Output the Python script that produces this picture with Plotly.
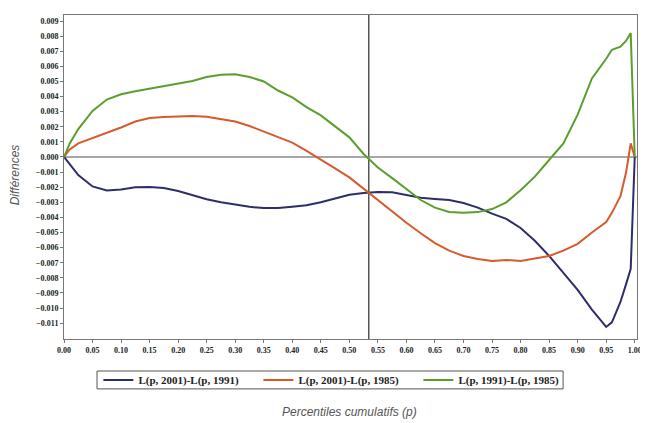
import plotly.graph_objects as go

# cumulative percentiles p
p = [0, 0.01, 0.025, 0.05, 0.075, 0.10, 0.125, 0.15, 0.175, 0.20, 0.225, 0.25,
     0.275, 0.30, 0.325, 0.35, 0.375, 0.40, 0.425, 0.45, 0.475, 0.50, 0.525,
     0.55, 0.575, 0.60, 0.625, 0.65, 0.675, 0.70, 0.725, 0.75, 0.775, 0.80,
     0.825, 0.85, 0.875, 0.90, 0.925, 0.95, 0.96, 0.975, 0.985, 0.993, 1.0]

# differences, in thousandths
d_2001_1991 = [0, -0.45, -1.2, -1.95, -2.22, -2.15, -2.0, -1.99, -2.05, -2.25,
               -2.52, -2.8, -3.0, -3.15, -3.3, -3.38, -3.38, -3.3, -3.2, -3.0,
               -2.75, -2.5, -2.38, -2.32, -2.33, -2.5, -2.7, -2.78, -2.85, -3.05,
               -3.35, -3.75, -4.1, -4.7, -5.55, -6.55, -7.65, -8.8, -10.1,
               -11.25, -10.95, -9.6, -8.4, -7.4, 0]
d_2001_1985 = [0, 0.5, 0.9, 1.25, 1.55, 1.95, 2.35, 2.58, 2.65, 2.67, 2.72, 2.67,
               2.5, 2.35, 2.05, 1.7, 1.35, 0.95, 0.4, -0.15, -0.75, -1.35, -2.1,
               -2.9, -3.6, -4.35, -5.05, -5.7, -6.2, -6.55, -6.75, -6.88, -6.82,
               -6.88, -6.72, -6.55, -6.2, -5.75, -5.0, -4.3, -3.7, -2.6, -1.0,
               0.9, 0]
d_1991_1985 = [0, 0.9, 1.85, 3.05, 3.8, 4.15, 4.35, 4.52, 4.68, 4.85, 5.03, 5.3,
               5.45, 5.48, 5.3, 5.0, 4.4, 3.95, 3.3, 2.75, 2.05, 1.3, 0.2, -0.7,
               -1.4, -2.1, -2.85, -3.35, -3.64, -3.7, -3.65, -3.45, -3.0, -2.2,
               -1.3, -0.2, 0.9, 2.8, 5.2, 6.5, 7.1, 7.3, 7.7, 8.2, 0]

names = ["L(p, 2001)-L(p, 1991)", "L(p, 2001)-L(p, 1985)", "L(p, 1991)-L(p, 1985)"]
colors = ["#2e2d6c", "#d85a2b", "#5c9e2e"]
p_split = 0.534

x_ticks = [i / 20 for i in range(21)]
y_ticks = [i / 1000 for i in range(-11, 10)]

tick_font = dict(family="Liberation Serif", size=8, color="#222", weight="bold")
title_font = dict(family="Liberation Sans", size=12, color="#555", style="italic")

fig = go.Figure()
for vals, name, col in zip([d_2001_1991, d_2001_1985, d_1991_1985], names, colors):
    fig.add_trace(go.Scatter(x=p, y=[v / 1000 for v in vals], name=name,
                             mode="lines", line=dict(color=col, width=2)))

# zero line, split line and legend frame
fig.add_shape(type="line", x0=0, x1=1.004, y0=0, y1=0, xref="x", yref="y",
              line=dict(color="#8a8a8a", width=1.5), layer="below")
fig.add_shape(type="line", x0=p_split, x1=p_split, y0=0, y1=1, xref="x",
              yref="paper", line=dict(color="#555", width=1.5), layer="below")
fig.add_shape(type="rect", x0=0.0576, x1=0.871, y0=-0.154, y1=-0.0988,
              xref="paper", yref="paper", line=dict(color="#555", width=1))

fig.add_annotation(text="Différences", textangle=-90, x=-0.085, y=0.506,
                   xanchor="center", yanchor="middle",
                   xref="paper", yref="paper", showarrow=False, font=title_font)
fig.add_annotation(text="Percentiles cumulatifs (p)", x=0.499, y=-0.225,
                   xanchor="center", yanchor="middle",
                   xref="paper", yref="paper", showarrow=False, font=title_font)

# page body adds an 8px offset at top-left, so the figure is 8px smaller
fig.update_layout(
    width=640, height=415, autosize=False,
    margin=dict(l=56, r=11, t=7, b=84),
    paper_bgcolor="white", plot_bgcolor="white",
    xaxis=dict(range=[0, 1.004], tickvals=x_ticks, tickformat=".2f",
               showgrid=False, zeroline=False, showline=True, mirror=True,
               linecolor="#777", linewidth=1, ticks="outside", ticklen=3,
               tickcolor="#777", tickfont=tick_font, automargin=False,
               ticklabeloverflow="allow"),
    yaxis=dict(range=[-0.01205, 0.0094], tickvals=y_ticks, tickformat=".3f",
               showgrid=False, zeroline=False, showline=True, mirror=True,
               linecolor="#777", linewidth=1, ticks="outside", ticklen=3,
               tickcolor="#777", tickfont=tick_font, automargin=False,
               ticklabeloverflow="allow"),
    legend=dict(orientation="h", x=0.06, xanchor="left", y=-0.1264,
                yanchor="middle", borderwidth=0, itemwidth=30,
                font=dict(family="Liberation Serif", size=11, color="#222",
                          weight="bold"),
                entrywidth=115, entrywidthmode="pixels",
                bgcolor="rgba(0,0,0,0)"),
)

fig.write_html("out.html")
